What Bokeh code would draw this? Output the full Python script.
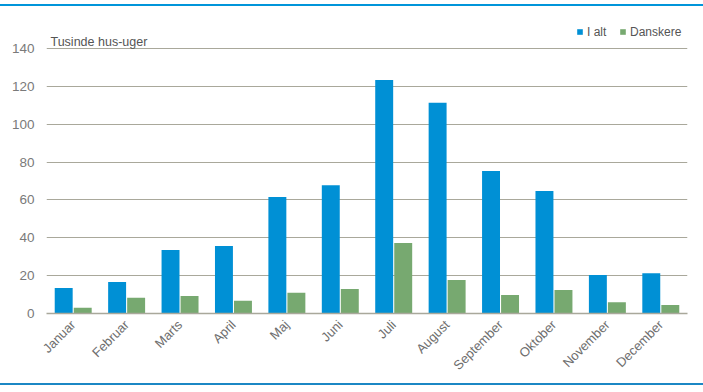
from math import pi
from bokeh.plotting import figure
from bokeh.layouts import column
from bokeh.models import (FactorRange, Range1d, FixedTicker, Legend, LegendItem, Label,
                          ColumnDataSource, Div)
from bokeh.transform import dodge
from bokeh.embed import file_html
from bokeh.resources import INLINE

months = ["Januar", "Februar", "Marts", "April", "Maj", "Juni", "Juli",
          "August", "September", "Oktober", "November", "December"]
i_alt = [13.5, 16.7, 33.5, 35.7, 61.5, 67.8, 123.3, 111.3, 75.3, 64.7, 20.3, 21.3]
danskere = [3.0, 8.3, 9.3, 6.8, 11.0, 13.0, 37.3, 17.7, 9.8, 12.4, 6.0, 4.5]
y_ticks = [0, 20, 40, 60, 80, 100, 120, 140]
y_title = "Tusinde hus-uger"
series_names = ["I alt", "Danskere"]

BLUE = "#0090D5"
GREEN = "#77A970"
GRID = "#A9A89B"
FONT = "Liberation Sans"

src = ColumnDataSource(dict(month=months, i_alt=i_alt, danskere=danskere))

# frame: 46..687 px horizontally, 140 at y=48 and 0 at y=313 (1.893 px per unit)
y_top = 140 + 26 / 1.893

p = figure(width=703, height=377, x_range=FactorRange(*months), y_range=Range1d(0, y_top),
           output_backend="svg", toolbar_location=None,
           min_border_left=46, min_border_right=16, min_border_top=16, min_border_bottom=70,
           margin=0)
p.outline_line_color = None
p.background_fill_color = "white"
p.border_fill_color = "white"

r1 = p.vbar(x=dodge("month", -0.178, range=p.x_range), top="i_alt", width=0.336,
            source=src, color=BLUE, line_color=None)
r2 = p.vbar(x=dodge("month", 0.178, range=p.x_range), top="danskere", width=0.336,
            source=src, color=GREEN, line_color=None)

p.xgrid.grid_line_color = None
p.ygrid.grid_line_color = GRID
p.ygrid.grid_line_width = 1.2
p.yaxis.ticker = FixedTicker(ticks=y_ticks)
p.yaxis.axis_line_color = None
p.yaxis.major_tick_line_color = None
p.yaxis.major_tick_out = 0
p.yaxis.major_tick_in = 0
p.yaxis.minor_tick_line_color = None
p.yaxis.major_label_standoff = 12
p.yaxis.major_label_text_font = FONT
p.yaxis.major_label_text_font_size = "13.5px"
p.yaxis.major_label_text_color = "#7a7a7a"

p.xaxis.axis_line_color = GRID
p.xaxis.axis_line_width = 1.5
p.xaxis.major_tick_line_color = None
p.xaxis.major_tick_out = 0
p.xaxis.major_tick_in = 0
p.xaxis.minor_tick_line_color = None
p.xaxis.major_label_orientation = pi / 4
p.xaxis.major_label_standoff = 9
p.xaxis.major_label_text_font = FONT
p.xaxis.major_label_text_font_size = "13px"
p.xaxis.major_label_text_color = "#6e6e6e"

p.add_layout(Label(x=0, y=140, x_offset=4, y_offset=6, text=y_title,
                   text_font=FONT, text_font_size="12.5px", text_color="#555555",
                   text_baseline="alphabetic"))

legend = Legend(items=[LegendItem(label=series_names[0], renderers=[r1]),
                       LegendItem(label=series_names[1], renderers=[r2])],
                location=(530, 274), orientation="horizontal",
                glyph_width=7, glyph_height=7, label_standoff=4, spacing=12,
                padding=0, margin=0, border_line_color=None, background_fill_alpha=0,
                label_text_font=FONT, label_text_font_size="12px", label_text_color="#555555",
                label_height=15)
p.add_layout(legend, "center")

top_rule = Div(text="", width=703, height=2, margin=(4, 0, 0, 0),
               styles={"background-color": "#0095DA", "overflow": "hidden"})
bottom_rule = Div(text="", width=703, height=2, margin=0,
                  styles={"background-color": "#1B87C4", "overflow": "hidden"})
layout = column(top_rule, p, bottom_rule, spacing=0, margin=0)

open("out.html", "w").write(file_html(layout, INLINE))
